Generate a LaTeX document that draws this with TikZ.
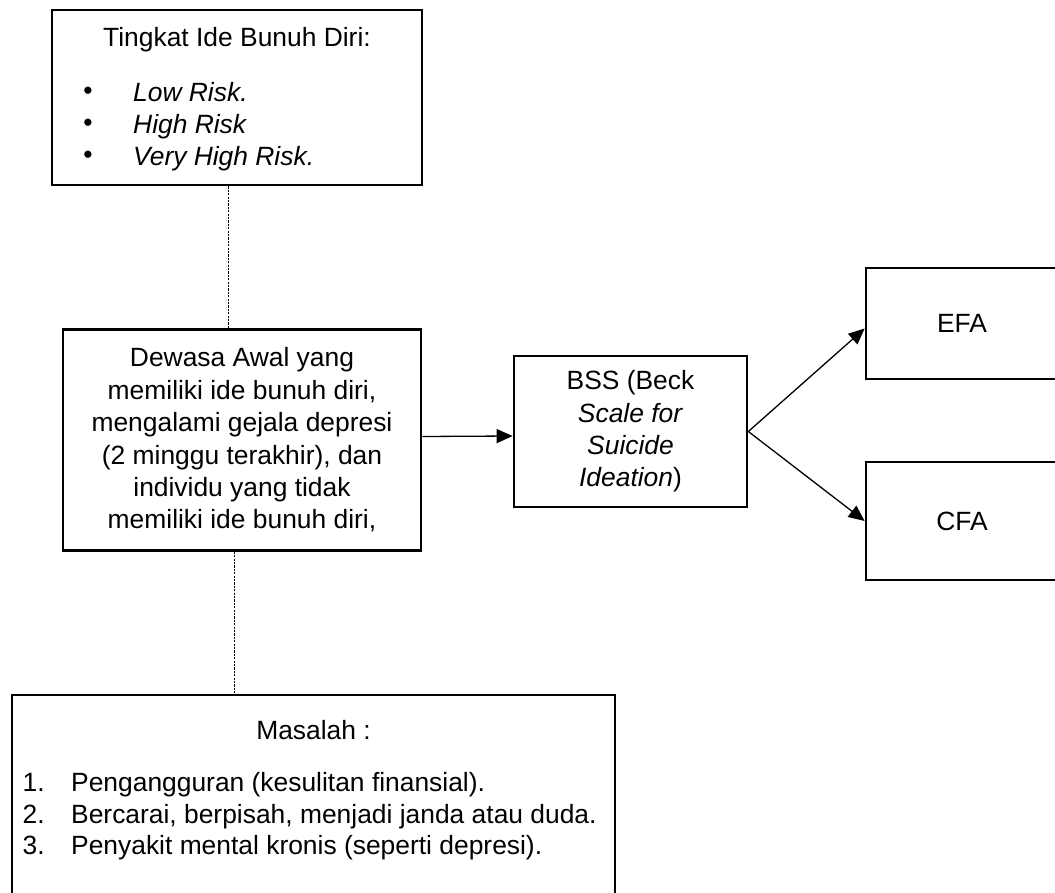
\documentclass[tikz,border=0pt]{standalone}
\usepackage{fontspec}
\setmainfont{Liberation Sans}
\usetikzlibrary{arrows.meta,calc}
\tikzset{
  boxnode/.style={draw=black, line width=2.7pt, inner sep=0pt, align=center,
    font=\fontsize{26.4}{32.4}\selectfont},
  txt/.style={inner sep=0pt, font=\fontsize{26.4}{32.4}\selectfont},
  arrowline/.style={line width=1.3pt, -{Triangle[length=16pt,width=14pt]}},
  dotline/.style={line width=0.9pt, dash pattern=on 2.2pt off 1.2pt},
}
\begin{document}
\begin{tikzpicture}[x=1pt,y=-1pt]
\useasboundingbox (0,0) rectangle (1055,893);
% boxes
\node[boxnode, minimum width=370pt, minimum height=175pt] (top) at (237,97.5) {};
\node[boxnode, minimum width=358pt, minimum height=221pt] (mid) at (242,440)
  {Dewasa Awal yang\\memiliki ide bunuh diri,\\mengalami gejala depresi\\(2 minggu terakhir), dan\\individu yang tidak\\memiliki ide bunuh diri,};
\node[boxnode, minimum width=233pt, minimum height=151pt] (bss) at (630.5,431.5)
  {BSS (Beck\\\textit{Scale for}\\\textit{Suicide}\\\textit{Ideation})};
\node[boxnode, minimum width=192pt, minimum height=111pt] (efa) at (962,323.5) {EFA};
\node[boxnode, minimum width=192pt, minimum height=118pt] (cfa) at (962,521) {CFA};
\node[boxnode, minimum width=603pt, minimum height=240pt] (bot) at (313.5,815) {};
% top box text
\node[txt, anchor=base] (title) at (237,47) {Tingkat Ide Bunuh Diri:};
\node[txt, anchor=center] (b1) at (88,93) {\textbullet};
\node[txt, anchor=center] (b2) at (88,125) {\textbullet};
\node[txt, anchor=center] (b3) at (88,157) {\textbullet};
\node[txt, anchor=base west] (r1) at (133,102) {\textit{Low Risk.}};
\node[txt, anchor=base west] (r2) at (133,134) {\textit{High Risk}};
\node[txt, anchor=base west] (r3) at (133,166) {\textit{Very High Risk.}};
% bottom box text
\node[txt, anchor=base] (masalah) at (313.5,739) {Masalah :};
\node[txt, anchor=base west] (n1) at (22.5,791) {1.};
\node[txt, anchor=base west] (n2) at (22.5,823) {2.};
\node[txt, anchor=base west] (n3) at (22.5,854) {3.};
\node[txt, anchor=base west] (m1) at (71,791) {Pengangguran (kesulitan finansial).};
\node[txt, anchor=base west] (m2) at (71,823) {Bercarai, berpisah, menjadi janda atau duda.};
\node[txt, anchor=base west] (m3) at (71,854) {Penyakit mental kronis (seperti depresi).};
% connectors
\draw[dotline] ([xshift=-9pt]top.south) -- ([xshift=-9pt]top.south |- mid.north);
\draw[dotline] ([xshift=-8pt]mid.south) -- ([xshift=-8pt]mid.south |- bot.north);
\draw[arrowline] ([yshift=3.5pt]mid.east) -- ([yshift=-4.5pt]bss.west);
\draw[arrowline] (bss.east) -- ([yshift=-5pt]efa.west);
\draw[arrowline] (bss.east) -- (cfa.west);
\end{tikzpicture}
\end{document}
